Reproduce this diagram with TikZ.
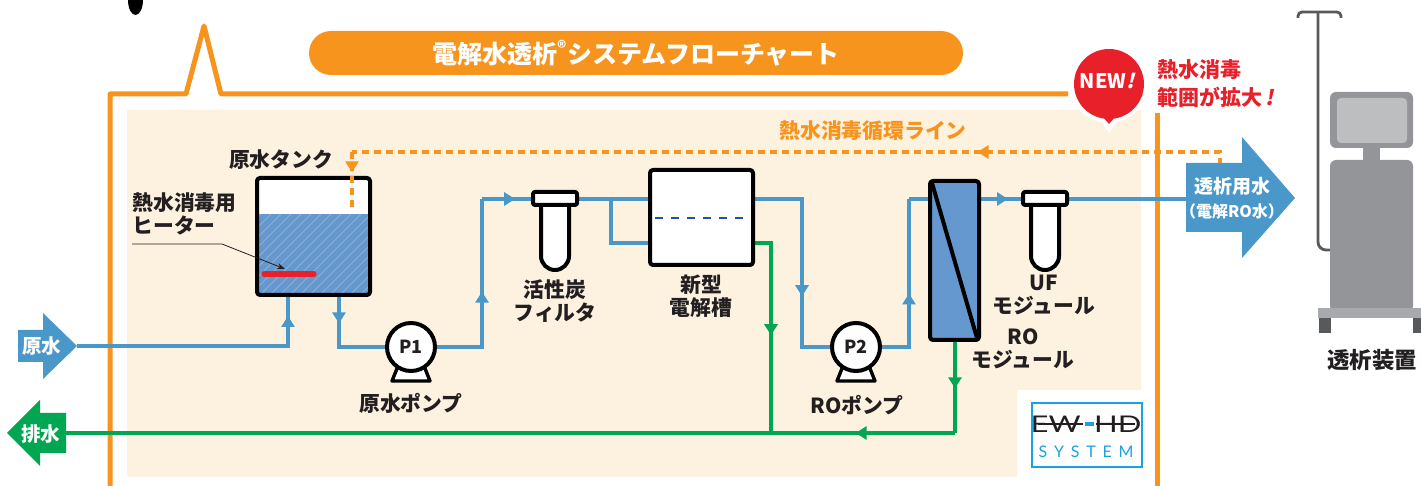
\documentclass[tikz,border=0pt]{standalone}
\usepackage{fontspec}
\usepackage{graphicx}
\setmainfont{Noto Sans CJK JP}
\newfontfamily\logofont{Lato}
\usetikzlibrary{arrows.meta,decorations.markings}

\definecolor{frameorange}{RGB}{247,148,30}
\definecolor{panel}{RGB}{253,241,224}
\definecolor{pipe}{RGB}{74,152,201}
\definecolor{water}{RGB}{101,152,207}
\definecolor{drain}{RGB}{0,166,81}
\definecolor{alert}{RGB}{232,32,42}
\definecolor{cellblue}{RGB}{20,90,170}
\definecolor{machine}{RGB}{147,149,152}
\definecolor{machinebase}{RGB}{167,169,172}
\definecolor{screen}{RGB}{188,190,192}
\definecolor{pole}{RGB}{88,89,91}
\definecolor{logoblue}{RGB}{27,161,226}
\definecolor{ink}{RGB}{35,31,32}

\tikzset{
  pipeline/.style={draw=pipe, line width=2pt},
  drainline/.style={draw=drain, line width=2pt},
  hotline/.style={draw=frameorange, line width=2pt, dash pattern=on 3.5pt off 2.5pt},
  flowmark/.style={postaction=decorate, decoration={markings,
      mark=at position #1 with {\arrow{Triangle[length=5.5pt,width=6.5pt]}}}},
  unit/.style={draw=black, line width=2pt, fill=white, line join=round},
  stand/.style={draw=black, line width=1.7pt, fill=white, line join=round},
  pump/.style={circle, draw=black, line width=2pt, fill=white, minimum size=24pt,
      inner sep=0pt, font=\bfseries\fontsize{9}{9}\selectfont, text=ink},
  partname/.style={font=\bfseries\fontsize{10.4}{11.5}\selectfont, text=ink,
      align=center, inner sep=0pt},
  blocktext/.style={font=\bfseries\fontsize{9.8}{11}\selectfont, text=white,
      align=center, inner sep=0pt},
  cartridge/.pic={
    \draw[unit] (-14,6) -- (-14,57.5) arc[start angle=180, end angle=0, radius=14] -- (14,6);
    \draw[unit, rounded corners=1pt] (-22,-6.5) rectangle (22,6.5);
  }
}

\begin{document}
\begin{tikzpicture}[x=0.5pt, y=-0.5pt]
\useasboundingbox (0,0) rectangle (1421,486);

% panel behind the plant
\fill[panel] (127,110) -- (1141,110) -- (1141,390) -- (1017,390) -- (1017,477)
  -- (127,477) -- cycle;

% orange frame with the spike
\draw[frameorange, line width=2.5pt, line join=round]
  (110,492) -- (110,94) -- (186,94) -- (204,26) -- (221,94) -- (1068,94);
\draw[frameorange, line width=2.5pt] (1157,113) -- (1157,492);
\fill[black] (135.5,0) ellipse [x radius=7.5, y radius=15];

% title bar
\fill[frameorange, rounded corners=11pt] (309,31) rectangle (963,75);
\node[font=\bfseries\fontsize{12.5}{14}\selectfont, text=white] (title) at (636,53)
  {電解水透析\textsuperscript{®}システムフローチャート};

% NEW bubble
\fill[white] (1109,84) circle [radius=39];
\fill[white] (1092,108) -- (1126,108) -- (1109,133) -- cycle;
\fill[alert] (1109,84) circle [radius=35];
\fill[alert] (1097,110) -- (1121,110) -- (1109,124) -- cycle;
\node[font=\bfseries\fontsize{10}{10}\selectfont, text=white] (newtag) at (1107,81)
  {NEW{\addfontfeatures{FakeSlant=0.25}!}};
\node[anchor=west, align=left, font=\bfseries\fontsize{10.5}{14}\selectfont,
  text=alert, inner sep=0pt] (wider) at (1157,84)
  {熱水消毒\\範囲が拡大{\addfontfeatures{FakeSlant=0.2}\,!}};

% pipe corners
\coordinate (rawtip) at (77,346);
\coordinate (tankin) at (288,295);
\coordinate (tankout) at (339,295);
\coordinate (riser) at (482,199);
\coordinate (carbonin) at (533,199);
\coordinate (carbonout) at (577,199);
\coordinate (branch) at (611,199);
\coordinate (cellin) at (650,199);
\coordinate (cellin2) at (650,243);
\coordinate (cellout) at (753,199);
\coordinate (cellwaste) at (753,243);
\coordinate (drop) at (802,347);
\coordinate (riser2) at (909,199);
\coordinate (roin) at (930,199);
\coordinate (roout) at (979,199);
\coordinate (ufin) at (1023,199);
\coordinate (ufout) at (1067,199);
\coordinate (outlet) at (1190,199);
\coordinate (rowaste) at (955,340);
\coordinate (rocorner) at (955,433);
\coordinate (join) at (771,433);
\coordinate (drainend) at (66,433);
\coordinate (hotret) at (1220,165);
\coordinate (hotcorner) at (352,152);
\coordinate (tankvent) at (352,210);

% pumps
\foreach \pn/\px/\pt in {p1/411/P1, p2/856/P2}{
  \draw[stand] (\px-13,366) -- (\px+13,366) -- (\px+19,381) -- (\px-19,381) -- cycle;
  \node[pump] (\pn) at (\px,347) {\pt};
}

% water lines
\draw[pipeline, flowmark=0.92] (rawtip) -| (tankin);
\draw[pipeline, flowmark=0.29] (tankout) |- (p1.west);
\draw[pipeline, flowmark=0.52] (p1.east) -| (riser);
\draw[pipeline, flowmark=0.65] (riser) -- (carbonin);
\draw[pipeline] (carbonout) -- (cellin);
\draw[pipeline] (branch) |- (cellin2);
\draw[pipeline, flowmark=0.65] (cellout) -| (drop) -- (p2.west);
\draw[pipeline, flowmark=0.46] (p2.east) -| (riser2);
\draw[pipeline] (riser2) -- (roin);
\draw[pipeline, flowmark=0.66] (roout) -- (ufin);
\draw[pipeline] (ufout) -- (outlet);

% drain lines
\draw[drainline, flowmark=0.53] (cellwaste) -| (join);
\draw[drainline, flowmark=0.52] (rowaste) -- (rocorner);
\draw[drainline, flowmark=0.54] (rocorner) -- (join);
\draw[drainline] (join) -- (drainend);

% raw water tank
\fill[white] (257,178) rectangle (370,295);
\begin{scope}
  \clip (257,214) rectangle (370,295);
  \fill[water] (257,214) rectangle (370,295);
  \foreach \d in {150,160,...,380}
    \draw[white, opacity=0.25, line width=0.4pt] (\d,305) -- ++(100,-100);
\end{scope}
\draw[unit, fill=none, rounded corners=1.5pt] (257,178) rectangle (370,295);
\draw[alert, line width=2.6pt, line cap=round] (264,274) -- (314,274);

% hot water loop
\draw[hotline, flowmark=0.29] (hotret) |- (hotcorner);
\draw[hotline, flowmark=0.35] (hotcorner) -- (tankvent);

% carbon filter, electrolysis cell, RO and UF modules
\pic at (555,198.5) {cartridge};
\draw[unit, rounded corners=1.5pt] (650,170) rectangle (753,265);
\draw[cellblue, line width=1pt, dash pattern=on 4pt off 4pt] (655,218) -- (750,218);
\draw[unit, fill=water, rounded corners=1.5pt] (930,181) rectangle (979,340);
\draw[black, line width=2pt] (932,183) -- (977,338);
\pic at (1045,198.5) {cartridge};

% part names
\node[partname] (tanklbl) at (281,160) {原水タンク};
\node[partname, anchor=west, align=left] (heaterlbl) at (132,214) {熱水消毒用\\ヒーター};
\draw[ink, line width=0.4pt, -{Stealth[length=4pt,width=3pt]}]
  (132,244) -- (222,244) -- (285,269);
\node[partname] (p1lbl) at (411,403) {原水ポンプ};
\node[partname] (carbonlbl) at (555,301) {活性炭\\フィルタ};
\node[partname] (celllbl) at (701,296) {新型\\電解槽};
\node[partname] (p2lbl) at (857,405) {ROポンプ};
\node[partname] (uflbl) at (1044,295) {UF\\モジュール};
\node[partname] (rolbl) at (1023,349) {RO\\モジュール};
\node[partname, text=frameorange] (looplbl) at (873,131) {熱水消毒循環ライン};

% block arrows in and out
\fill[pipe] (18,330) -- (43,330) -- (43,313) -- (77,346) -- (43,379) -- (43,362)
  -- (18,362) -- cycle;
\node[blocktext] (rawlbl) at (42,346) {原水};
\fill[drain] (66,413) -- (40,413) -- (40,400) -- (7,433) -- (40,466) -- (40,453)
  -- (66,453) -- cycle;
\node[blocktext] (drainlbl) at (41,434) {排水};
\fill[pipe] (1186,163) -- (1242,163) -- (1242,137) -- (1295,198) -- (1242,258)
  -- (1242,232) -- (1186,232) -- cycle;
\node[blocktext, font=\bfseries\fontsize{9.5}{12}\selectfont] (outlbl) at (1232,198)
  {透析用水\\{\fontsize{8}{9}\selectfont （電解RO水）}};

% dialysis machine
\draw[pole, line width=1.4pt, rounded corners=2pt] (1298,18) -- (1298,12) -- (1341,12) -- (1341,18);
\draw[pole, line width=1.4pt, rounded corners=4pt] (1318,12) -- (1318,250) -- (1332,250);
\fill[machine, rounded corners=3pt] (1330,92) rectangle (1413,148);
\fill[screen, rounded corners=2pt] (1337,98) rectangle (1407,143);
\fill[machine] (1363,146) rectangle (1380,162);
\fill[machine, rounded corners=3pt] (1330,160) rectangle (1413,312);
\fill[machinebase] (1318,308) rectangle (1421,318);
\fill[pole] (1319,318) rectangle (1331,333);
\fill[pole] (1413,318) rectangle (1421,333);
\node[partname, font=\bfseries\fontsize{11.2}{12}\selectfont] (machinelbl) at (1372,360) {透析装置};

% system logo
\draw[logoblue, line width=1pt, fill=white] (1032,403) rectangle (1142,467);
\node[font=\logofont\fontsize{11.5}{12}\selectfont, text=ink, inner sep=0pt] (ewhd) at (1086,424)
  {\scalebox{1.35}[1]{EW\hspace{5pt}HD}};
\draw[ink, line width=0.7pt] (1038,424) -- (1083,424) (1096,424) -- (1135,424);
\fill[logoblue] (1085,422.5) rectangle (1094,426);
\node[font=\logofont\fontsize{8}{8}\selectfont, text=logoblue, inner sep=0pt] (syslbl) at (1086,452)
  {S\hspace{3.4pt}Y\hspace{3.4pt}S\hspace{3.4pt}T\hspace{3.4pt}E\hspace{3.4pt}M};
\end{tikzpicture}
\end{document}
